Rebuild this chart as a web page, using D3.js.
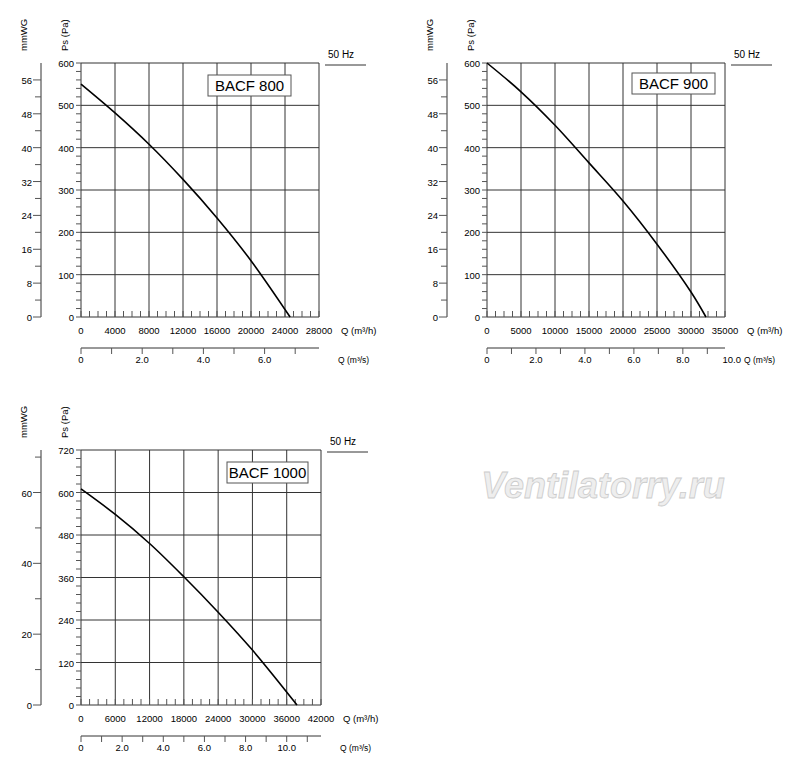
<!DOCTYPE html>
<html><head><meta charset="utf-8">
<script src="https://cdn.jsdelivr.net/npm/d3@7"></script>
<style>body{margin:0;background:#fff}text{font-family:Arial,"Liberation Sans",sans-serif}</style>
</head><body>
<script>
// Curvas: caudal Q (m3/h) y presión estática Ps (Pa)
const q800 = [0, 4000, 8000, 12000, 16000, 20000, 24600];
const ps800 = [550, 482, 408, 325, 234, 133, 0];
const q900 = [0, 5000, 10000, 15000, 20000, 25000, 30000, 32200];
const ps900 = [600, 532, 453, 364, 274, 172, 59, 0];
const q1000 = [0, 6000, 12000, 18000, 24000, 30000, 37800];
const ps1000 = [610, 538, 456, 362, 262, 155, 0];
const modelos = ["BACF 800", "BACF 900", "BACF 1000"];

const svg = d3.select("body").append("svg").attr("width", 800).attr("height", 777);

function grafico(c) {
  const g = svg.append("g").attr("transform", `translate(${c.x},${c.y})`);
  const W = c.w, H = c.h;
  const x = d3.scaleLinear().domain([0, c.qmax]).range([0, W]);
  const y = d3.scaleLinear().domain([0, c.pmax]).range([H, 0]);
  const ymm = d3.scaleLinear().domain([0, c.mmmax]).range([H, 0]);
  const xs = d3.scaleLinear().domain([0, c.qmax / 3600]).range([0, W]);

  // rejilla
  g.selectAll(".gv").data(d3.range(c.qstep, c.qmax + 1, c.qstep)).join("line")
    .attr("x1", d => x(d)).attr("x2", d => x(d)).attr("y1", 0).attr("y2", H)
    .attr("stroke", "#333").attr("stroke-width", 1);
  g.selectAll(".gh").data(d3.range(c.pstep, c.pmax + 1, c.pstep)).join("line")
    .attr("x1", 0).attr("x2", W).attr("y1", d => y(d)).attr("y2", d => y(d))
    .attr("stroke", "#333").attr("stroke-width", 1);

  // eje Pa
  g.append("line").attr("x1", 0).attr("x2", 0).attr("y1", 0).attr("y2", H).attr("stroke", "#333");
  g.append("line").attr("x1", 0).attr("x2", W).attr("y1", H).attr("y2", H).attr("stroke", "#333");
  g.selectAll(".pm").data(d3.range(0, c.pmax + 0.1, c.pstep / 5)).join("line")
    .attr("x1", -5).attr("x2", 0).attr("y1", d => y(d)).attr("y2", d => y(d)).attr("stroke", "#555");
  g.selectAll(".pl").data(d3.range(0, c.pmax + 1, c.pstep)).join("text")
    .attr("x", -7).attr("y", d => y(d) + 4).attr("text-anchor", "end").attr("font-size", 9.5).text(d => d);

  // eje mmWG
  const mx = -40;
  g.append("line").attr("x1", mx).attr("x2", mx).attr("y1", 0).attr("y2", H).attr("stroke", "#333");
  g.selectAll(".mm").data(d3.range(0, c.mmmax - 0.1, c.mmstep / 2)).join("line")
    .attr("x1", d => mx - ((d / c.mmstep) % 1 === 0 ? 8 : 6)).attr("x2", mx)
    .attr("y1", d => ymm(d)).attr("y2", d => ymm(d)).attr("stroke", "#555");
  g.selectAll(".ml").data(d3.range(0, c.mmmax - 0.1, c.mmstep)).join("text")
    .attr("x", mx - 9).attr("y", d => ymm(d) + 4).attr("text-anchor", "end").attr("font-size", 9.5).text(d => d);

  // eje Q m3/h
  g.selectAll(".qm").data(d3.range(0, c.qmax + 1, c.qstep / 4)).join("line")
    .attr("x1", d => x(d)).attr("x2", d => x(d)).attr("y1", H - 6).attr("y2", H).attr("stroke", "#555");
  g.selectAll(".ql").data(d3.range(0, c.qmax + 1, c.qstep)).join("text")
    .attr("x", d => x(d)).attr("y", H + 17).attr("text-anchor", "middle").attr("font-size", 9.5).text(d => d);
  g.append("text").attr("x", W + 22).attr("y", H + 17).attr("font-size", 9.5).text("Q (m³/h)");

  // eje Q m3/s
  const sy = H + 31;
  g.append("line").attr("x1", 0).attr("x2", W).attr("y1", sy).attr("y2", sy).attr("stroke", "#333");
  g.selectAll(".sm").data(d3.range(0, c.qmax / 3600, 1)).join("line")
    .attr("x1", d => xs(d)).attr("x2", d => xs(d)).attr("y1", sy).attr("y2", sy + 6).attr("stroke", "#555");
  g.selectAll(".sl").data(d3.range(0, c.slmax + 0.01, 2)).join("text")
    .attr("x", d => xs(d)).attr("y", sy + 15).attr("text-anchor", "middle").attr("font-size", 9.5)
    .text(d => d === 0 ? "0" : d.toFixed(1));
  g.append("text").attr("x", W + 19).attr("y", sy + 15).attr("font-size", 8.5).text("Q (m³/s)");

  // títulos de ejes
  g.append("text").attr("transform", `translate(${-13},${-12}) rotate(-90)`).attr("font-size", 9.5).text("Ps (Pa)");
  g.append("text").attr("transform", `translate(${-54},${-12}) rotate(-90)`).attr("font-size", 9.5).text("mmWG");

  // 50 Hz
  g.append("text").attr("x", W + 9).attr("y", -5).attr("font-size", 10).text("50 Hz");
  g.append("line").attr("x1", W + 6).attr("x2", W + 47).attr("y1", 2).attr("y2", 2).attr("stroke", "#333");

  // etiqueta del modelo
  g.append("rect").attr("x", c.bx).attr("y", c.by).attr("width", c.bw).attr("height", 21)
    .attr("fill", "#fff").attr("stroke", "#555");
  g.append("text").attr("x", c.bx + c.bw / 2).attr("y", c.by + 16).attr("text-anchor", "middle")
    .attr("font-size", 15).text(c.nombre);

  // curva
  const pts = c.q.map((d, i) => [d, c.ps[i]]);
  g.append("path").datum(pts).attr("fill", "none").attr("stroke", "#000").attr("stroke-width", 1.6)
    .attr("d", d3.line().x(d => x(d[0])).y(d => y(d[1])).curve(d3.curveCatmullRom));
}

grafico({x: 81, y: 63, w: 238, h: 254, qmax: 28000, qstep: 4000, pmax: 600, pstep: 100, mmmax: 60, mmstep: 8,
  slmax: 6, bx: 127, by: 12, bw: 83, q: q800, ps: ps800, nombre: modelos[0]});
grafico({x: 487, y: 63, w: 238, h: 254, qmax: 35000, qstep: 5000, pmax: 600, pstep: 100, mmmax: 60, mmstep: 8,
  slmax: 10, bx: 145, by: 10, bw: 83, q: q900, ps: ps900, nombre: modelos[1]});
grafico({x: 81, y: 450, w: 240, h: 255, qmax: 42000, qstep: 6000, pmax: 720, pstep: 120, mmmax: 72, mmstep: 20,
  slmax: 10, bx: 146, by: 12, bw: 81, q: q1000, ps: ps1000, nombre: modelos[2]});

svg.append("text").attr("x", 603).attr("y", 498).attr("text-anchor", "middle")
  .attr("font-size", 36).attr("font-style", "italic").attr("font-weight", "bold")
  .attr("fill", "#eee").attr("stroke", "#ccc").attr("stroke-width", 0.8).text("Ventilatorry.ru");
</script>
</body></html>
